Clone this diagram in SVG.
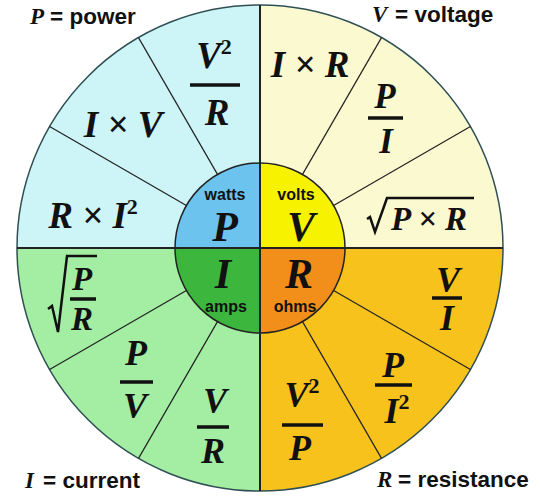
<svg xmlns="http://www.w3.org/2000/svg" width="540" height="499" viewBox="0 0 540 499">
<style>
.f{font-family:"Liberation Serif","Times New Roman",serif;font-weight:bold;font-style:italic;fill:#111;text-anchor:middle}
.sup{font-family:"Liberation Serif","Times New Roman",serif;font-weight:bold;font-style:normal;font-size:22px}
.lab{font-family:"Liberation Sans",Arial,sans-serif;font-weight:bold;font-size:22.5px;fill:#111}
.labv{font-family:"Liberation Serif","Times New Roman",serif;font-weight:bold;font-style:italic;font-size:23px;fill:#111}
.unit{font-family:"Liberation Sans",Arial,sans-serif;font-weight:bold;font-size:16px;fill:#111;text-anchor:middle}
.bar{stroke:#111;stroke-width:3.5}
.spoke{stroke:#222;stroke-width:1.2;fill:none}
.rad{stroke:#111;stroke-width:2.5;fill:none;stroke-linejoin:miter}
</style>
<rect width="540" height="499" fill="#ffffff"/>
<g id="quadrants">
<path d="M260,248 L17,248 A243,243 0 0 1 260,5 Z" fill="#cdf4f7"/>
<path d="M260,248 L260,5 A243,243 0 0 1 503,248 Z" fill="#fbf9cf"/>
<path d="M260,248 L503,248 A243,243 0 0 1 260,491 Z" fill="#f8c21c"/>
<path d="M260,248 L260,491 A243,243 0 0 1 17,248 Z" fill="#a3eea2"/>
<circle cx="260" cy="248" r="243" fill="none" stroke="#2f4f55" stroke-width="1.5"/>
</g>
<g id="connectors">
<line class="spoke" x1="186.4" y1="205.5" x2="49.6" y2="126.5"/>
<line class="spoke" x1="217.5" y1="174.4" x2="138.5" y2="37.6"/>
<line class="spoke" x1="333.6" y1="205.5" x2="470.4" y2="126.5"/>
<line class="spoke" x1="302.5" y1="174.4" x2="381.5" y2="37.6"/>
<line class="spoke" x1="186.4" y1="290.5" x2="49.6" y2="369.5"/>
<line class="spoke" x1="217.5" y1="321.6" x2="138.5" y2="458.4"/>
<line class="spoke" x1="333.6" y1="290.5" x2="470.4" y2="369.5"/>
<line class="spoke" x1="302.5" y1="321.6" x2="381.5" y2="458.4"/>
</g>
<g id="hub">
<path d="M260,248 L175,248 A85,85 0 0 1 260,163 Z" fill="#6bc3ee"/>
<path d="M260,248 L260,163 A85,85 0 0 1 345,248 Z" fill="#f7f200"/>
<path d="M260,248 L345,248 A85,85 0 0 1 260,333 Z" fill="#f28e1a"/>
<path d="M260,248 L260,333 A85,85 0 0 1 175,248 Z" fill="#3db63d"/>
<circle cx="260" cy="248" r="85" fill="none" stroke="#222" stroke-width="1.5"/>
<line x1="17" y1="248" x2="503" y2="248" stroke="#222" stroke-width="2"/>
<line x1="260" y1="5" x2="260" y2="491" stroke="#222" stroke-width="2"/>
</g>
<g id="node-P">
<text class="unit" x="225" y="200">watts</text>
<text class="f" x="225" y="241" font-size="42">P</text>
</g>
<g id="node-V">
<text class="unit" x="296" y="200">volts</text>
<text class="f" x="301" y="241" font-size="42">V</text>
</g>
<g id="node-I">
<text class="f" x="223" y="288" font-size="42">I</text>
<text class="unit" x="226" y="312">amps</text>
</g>
<g id="node-R">
<text class="f" x="299" y="288" font-size="42">R</text>
<text class="unit" x="295" y="312">ohms</text>
</g>
<g id="p-formulas">
<text class="f" x="214" y="68" font-size="37">V<tspan class="sup" dy="-14">2</tspan></text>
<line class="bar" x1="190" y1="85" x2="240" y2="85"/>
<text class="f" x="217" y="125" font-size="37">R</text>
<text class="f" x="123" y="137" font-size="37">I × V</text>
<text class="f" x="93" y="228" font-size="37">R × I<tspan class="sup" dy="-14">2</tspan></text>
</g>
<g id="v-formulas">
<text class="f" x="310" y="77" font-size="37">I × R</text>
<text class="f" x="385" y="108" font-size="35">P</text>
<line class="bar" x1="368" y1="118" x2="403" y2="118"/>
<text class="f" x="386" y="153" font-size="35">I</text>
<path class="rad" d="M367,219 L370,217 L375,232 L387,198 L474,198"/>
<text class="f" x="429" y="230" font-size="33">P × R</text>
</g>
<g id="i-formulas">
<path class="rad" d="M48,309 L52,306 L58,332 L67,256 L97,256"/>
<text class="f" x="82" y="290" font-size="33">P</text>
<line class="bar" x1="70" y1="299" x2="96" y2="299"/>
<text class="f" x="82" y="330" font-size="33">R</text>
<text class="f" x="136" y="365" font-size="36">P</text>
<line class="bar" x1="120" y1="382" x2="153" y2="382"/>
<text class="f" x="135" y="418" font-size="36">V</text>
<text class="f" x="215" y="413" font-size="36">V</text>
<line class="bar" x1="197" y1="427" x2="229" y2="427"/>
<text class="f" x="213" y="463" font-size="36">R</text>
</g>
<g id="r-formulas">
<text class="f" x="448" y="292" font-size="36">V</text>
<line class="bar" x1="432" y1="298" x2="462" y2="298"/>
<text class="f" x="447" y="330" font-size="36">I</text>
<text class="f" x="393" y="377" font-size="36">P</text>
<line class="bar" x1="375" y1="385" x2="412" y2="385"/>
<text class="f" x="397" y="423" font-size="36">I<tspan class="sup" dy="-14">2</tspan></text>
<text class="f" x="302" y="407" font-size="36">V<tspan class="sup" dy="-14">2</tspan></text>
<line class="bar" x1="282" y1="425" x2="323" y2="425"/>
<text class="f" x="300" y="460" font-size="36">P</text>
</g>
<g id="legend">
<text class="labv" x="30" y="24">P</text><text class="lab" x="50" y="24">= power</text>
<text class="labv" x="372" y="22">V</text><text class="lab" x="395" y="22">= voltage</text>
<text class="labv" x="25" y="488">I</text><text class="lab" x="43" y="488">= current</text>
<text class="labv" x="377" y="487">R</text><text class="lab" x="398" y="487">= resistance</text>
</g>
</svg>
